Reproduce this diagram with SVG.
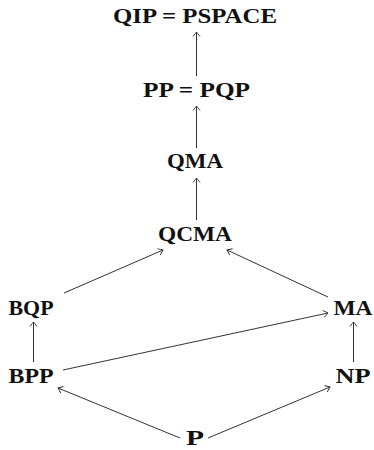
<svg xmlns="http://www.w3.org/2000/svg" width="374" height="450" viewBox="0 0 374 450">
<style>
text{font-family:"Liberation Serif","Times New Roman",serif;font-weight:bold;font-size:21px;fill:#111;text-anchor:middle}
.e{stroke:#333;stroke-width:1;fill:none;marker-end:url(#a)}
</style>
<defs>
<marker id="a" markerUnits="userSpaceOnUse" markerWidth="10" markerHeight="10" viewBox="-6 -5 8 10" refX="0" refY="0" orient="auto">
<path d="M-4.5,-3.5 Q-1,-0.8 0,0 Q-1,0.8 -4.5,3.5" stroke="#333" stroke-width="0.9" fill="none"/>
</marker>
</defs>
<rect width="374" height="450" fill="#fff"/>
<g id="edges">
<line class="e" x1="196.5" y1="76" x2="196.5" y2="32"/>
<line class="e" x1="196.5" y1="148" x2="196.5" y2="106"/>
<line class="e" x1="196.5" y1="220" x2="196.5" y2="178"/>
<line class="e" x1="64" y1="293" x2="163" y2="250"/>
<line class="e" x1="328" y1="297" x2="227" y2="250"/>
<line class="e" x1="33.5" y1="362" x2="33.5" y2="322"/>
<line class="e" x1="63" y1="370" x2="328" y2="313"/>
<line class="e" x1="353.5" y1="362" x2="353.5" y2="322"/>
<line class="e" x1="180" y1="438" x2="58" y2="388"/>
<line class="e" x1="208" y1="438" x2="330" y2="387"/>
</g>
<g id="QIP"><text x="195" y="23" textLength="164" lengthAdjust="spacingAndGlyphs">QIP = PSPACE</text></g>
<g id="PP"><text x="196.5" y="97" textLength="107" lengthAdjust="spacingAndGlyphs">PP = PQP</text></g>
<g id="QMA"><text x="195" y="168" textLength="56" lengthAdjust="spacingAndGlyphs">QMA</text></g>
<g id="QCMA"><text x="195" y="241" textLength="74" lengthAdjust="spacingAndGlyphs">QCMA</text></g>
<g id="BQP"><text x="31" y="315" textLength="45" lengthAdjust="spacingAndGlyphs">BQP</text></g>
<g id="MA"><text x="353" y="315" textLength="39" lengthAdjust="spacingAndGlyphs">MA</text></g>
<g id="BPP"><text x="31" y="383" textLength="45" lengthAdjust="spacingAndGlyphs">BPP</text></g>
<g id="NP"><text x="353" y="383" textLength="35" lengthAdjust="spacingAndGlyphs">NP</text></g>
<g id="P"><text x="195" y="445" textLength="18" lengthAdjust="spacingAndGlyphs">P</text></g>
</svg>
